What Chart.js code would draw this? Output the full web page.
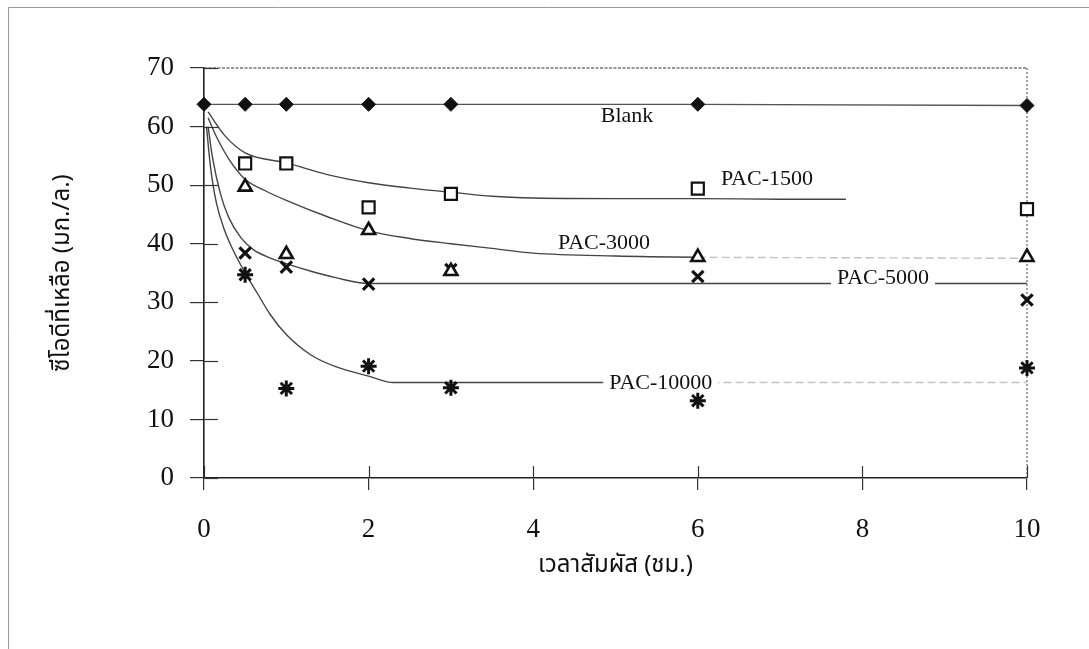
<!DOCTYPE html>
<html>
<head>
<meta charset="utf-8">
<script src="https://cdn.jsdelivr.net/npm/chart.js@4/dist/chart.umd.min.js"></script>
<style>
  html, body { margin: 0; padding: 0; background: #fff; }
  #wrap { width: 1089px; height: 649px; position: relative; }
</style>
</head>
<body>
<div id="wrap"><canvas id="c" width="1089" height="649"></canvas></div>
<script>
// ---- measured points ----
const timeX = [0, 0.5, 1, 2, 3, 6, 10];
const blankY = [63.8, 63.8, 63.8, 63.8, 63.8, 63.8, 63.6];

const pacX = [0.5, 1, 2, 3, 6, 10];
const pac1500Y = [53.7, 53.7, 46.2, 48.5, 49.4, 45.9];
const pac3000Y = [49.7, 38.2, 42.3, 35.3, 37.7, 37.7];
const pac5000Y = [38.4, 36.0, 33.1, 35.6, 34.4, 30.4];
const pac10000Y = [34.7, 15.3, 19.1, 15.4, 13.2, 18.8];

// ---- fitted curves ----
const fit1500X = [0.05, 0.25, 0.5, 1, 1.5, 2, 2.5, 3, 3.5, 4, 5, 6, 7, 7.8];
const fit1500Y = [62.5, 58.5, 55.5, 53.8, 51.8, 50.4, 49.5, 48.8, 48.1, 47.8, 47.7, 47.7, 47.6, 47.6];
const fit3000X = [0.05, 0.15, 0.3, 0.5, 0.75, 1, 1.5, 2, 2.5, 3, 3.5, 4, 5, 6, 8, 10];
const fit3000Y = [61.5, 58.3, 54.5, 51.0, 49.0, 47.4, 44.6, 42.2, 40.9, 40.0, 39.2, 38.4, 37.9, 37.7, 37.6, 37.5];
const fit5000X = [0.05, 0.1, 0.2, 0.3, 0.45, 0.6, 0.8, 1, 1.3, 1.6, 2, 3, 5, 7, 10];
const fit5000Y = [60, 55, 48.5, 44.5, 41, 39, 37.6, 36.6, 35.3, 34.2, 33.2, 33.2, 33.2, 33.2, 33.2];
const fit10000X = [0.03, 0.08, 0.15, 0.25, 0.35, 0.5, 0.65, 0.8, 1, 1.3, 1.6, 2, 2.3, 3, 5, 10];
const fit10000Y = [60, 53, 47, 42.3, 39, 35, 31.5, 28, 24.5, 21, 19, 17.4, 16.3, 16.3, 16.3, 16.3];

// ---- axis ticks & text ----
const xTicks = [0, 2, 4, 6, 8, 10];
const yTicks = [0, 10, 20, 30, 40, 50, 60, 70];
const xTitle = 'เวลาสัมผัส (ชม.)';
const yTitle = 'ซีโอดีที่เหลือ (มก./ล.)';

const labelText = ['Blank', 'PAC-1500', 'PAC-3000', 'PAC-5000', 'PAC-10000'];
const labelX = [5.14, 6.84, 4.86, 8.25, 5.55];
const labelY = [61.9, 51.2, 40.3, 34.3, 16.4];

const tailStart = { fit3000: 6.0, fit5000: 7.3, fit10000: 3.6 };

function pts(xs, ys) { return xs.map((x, i) => ({ x: x, y: ys[i] })); }

const SERIF = '"Liberation Serif", "Times New Roman", serif';
const THAI = '"Noto Sans Thai", "Noto Serif Thai", "Loma", "Garuda", "Tlwg Typo", "Norasi", "DejaVu Sans", sans-serif';

function fitLine(label, xs, ys, tail) {
  return {
    type: 'line', label: label, data: pts(xs, ys),
    borderColor: '#444', borderWidth: 1.4, pointRadius: 0, fill: false,
    cubicInterpolationMode: 'monotone', order: 5,
    segment: tail === undefined ? {} : {
      borderColor: ctx => ctx.p0.parsed.x >= tail ? '#c4c4c4' : '#444',
      borderDash: ctx => ctx.p0.parsed.x >= tail ? [8, 4] : []
    }
  };
}
function marks(label, ys, style, r, bw, fill) {
  return {
    type: 'scatter', label: label, data: pts(pacX, ys), showLine: false, clip: false,
    pointStyle: style, pointRadius: r, pointHoverRadius: r,
    borderColor: '#111', backgroundColor: fill, pointBorderWidth: bw, borderWidth: bw, order: 1
  };
}

const frame = {
  id: 'frame',
  beforeDatasetsDraw(chart) {
    const ctx = chart.ctx, a = chart.chartArea;
    ctx.save();
    ctx.strokeStyle = '#9a9a9a'; ctx.lineWidth = 1;
    ctx.beginPath(); ctx.moveTo(8.5, 649); ctx.lineTo(8.5, 7.5); ctx.lineTo(1089, 7.5); ctx.stroke();
    ctx.strokeStyle = '#777'; ctx.lineWidth = 1.5; ctx.setLineDash([3, 1.5]);
    ctx.beginPath(); ctx.moveTo(a.left, a.top); ctx.lineTo(a.right, a.top); ctx.stroke();
    ctx.strokeStyle = '#666'; ctx.lineWidth = 1.2; ctx.setLineDash([2, 2]);
    ctx.beginPath(); ctx.moveTo(a.right, a.top); ctx.lineTo(a.right, a.bottom); ctx.stroke();
    ctx.restore();
  },
  afterDraw(chart) {
    const ctx = chart.ctx, a = chart.chartArea;
    const xs = chart.scales.x, ys = chart.scales.y;
    ctx.save();
    ctx.strokeStyle = '#333'; ctx.lineWidth = 1.2;
    yTicks.forEach(v => { const py = Math.round(ys.getPixelForValue(v)) + 0.5;
      ctx.beginPath(); ctx.moveTo(a.left, py); ctx.lineTo(a.left + 14, py); ctx.stroke(); });
    xTicks.forEach(v => { const px = Math.round(xs.getPixelForValue(v)) + 0.5;
      ctx.beginPath(); ctx.moveTo(px, a.bottom); ctx.lineTo(px, a.bottom - 12); ctx.stroke(); });
    ctx.restore();
  }
};

const labels = {
  id: 'labels',
  afterDatasetsDraw(chart) {
    const ctx = chart.ctx, xs = chart.scales.x, ys = chart.scales.y;
    ctx.save();
    ctx.font = '22px ' + SERIF;
    ctx.textAlign = 'center'; ctx.textBaseline = 'middle';
    labelText.forEach((t, i) => {
      const px = xs.getPixelForValue(labelX[i]), py = ys.getPixelForValue(labelY[i]);
      const w = ctx.measureText(t).width;
      ctx.fillStyle = '#fff';
      ctx.fillRect(px - w / 2 - 6, py - 9, w + 12, 18);
      ctx.fillStyle = '#111';
      ctx.fillText(t, px, py + 1);
    });
    ctx.restore();
  }
};

new Chart(document.getElementById('c'), {
  data: {
    datasets: [
      {
        type: 'line', label: 'Blank', data: pts(timeX, blankY), clip: false,
        borderColor: '#555', borderWidth: 1.3, pointStyle: 'rectRot', pointRadius: 7, pointHoverRadius: 7,
        pointBackgroundColor: '#111', pointBorderColor: '#111', pointBorderWidth: 1, tension: 0, order: 2
      },
      fitLine('fit1500', fit1500X, fit1500Y),
      fitLine('fit3000', fit3000X, fit3000Y, tailStart.fit3000),
      fitLine('fit5000', fit5000X, fit5000Y, tailStart.fit5000),
      fitLine('fit10000', fit10000X, fit10000Y, tailStart.fit10000),
      marks('PAC-1500', pac1500Y, 'rect', 8.5, 2.2, '#fff'),
      marks('PAC-3000', pac3000Y, 'triangle', 7.5, 2.6, '#fff'),
      marks('PAC-5000', pac5000Y, 'crossRot', 8, 3.2, '#111'),
      marks('PAC-10000', pac10000Y, 'star', 8, 3, '#111')
    ]
  },
  options: {
    responsive: false, animation: false, devicePixelRatio: 1,
    layout: { padding: { left: 0, right: 62, top: 68, bottom: 0 } },
    plugins: { legend: { display: false }, tooltip: { enabled: false } },
    scales: {
      x: {
        type: 'linear', min: 0, max: 10,
        afterBuildTicks: s => { s.ticks = xTicks.map(v => ({ value: v })); },
        afterFit: s => { s.height = 171; },
        border: { display: true, color: '#222', width: 1.6 },
        grid: { drawOnChartArea: false, drawTicks: true, tickLength: 12, color: '#333', lineWidth: 1.2 },
        ticks: { padding: 24, color: '#111', font: { family: SERIF, size: 27 } },
        title: { display: true, text: xTitle, color: '#111', font: { family: THAI, size: 24 }, padding: { top: 0, bottom: 67 } }
      },
      y: {
        type: 'linear', min: 0, max: 70,
        afterBuildTicks: s => { s.ticks = yTicks.map(v => ({ value: v })); },
        afterFit: s => { s.width = 204; },
        border: { display: true, color: '#222', width: 1.6 },
        grid: { drawOnChartArea: false, drawTicks: true, tickLength: 14, color: '#333', lineWidth: 1.2 },
        ticks: { padding: 16, color: '#111', font: { family: SERIF, size: 27 } },
        title: { display: true, text: yTitle, color: '#111', font: { family: THAI, size: 24 }, padding: { top: 50, bottom: 0 } }
      }
    }
  },
  plugins: [frame, labels]
});
</script>
</body>
</html>
